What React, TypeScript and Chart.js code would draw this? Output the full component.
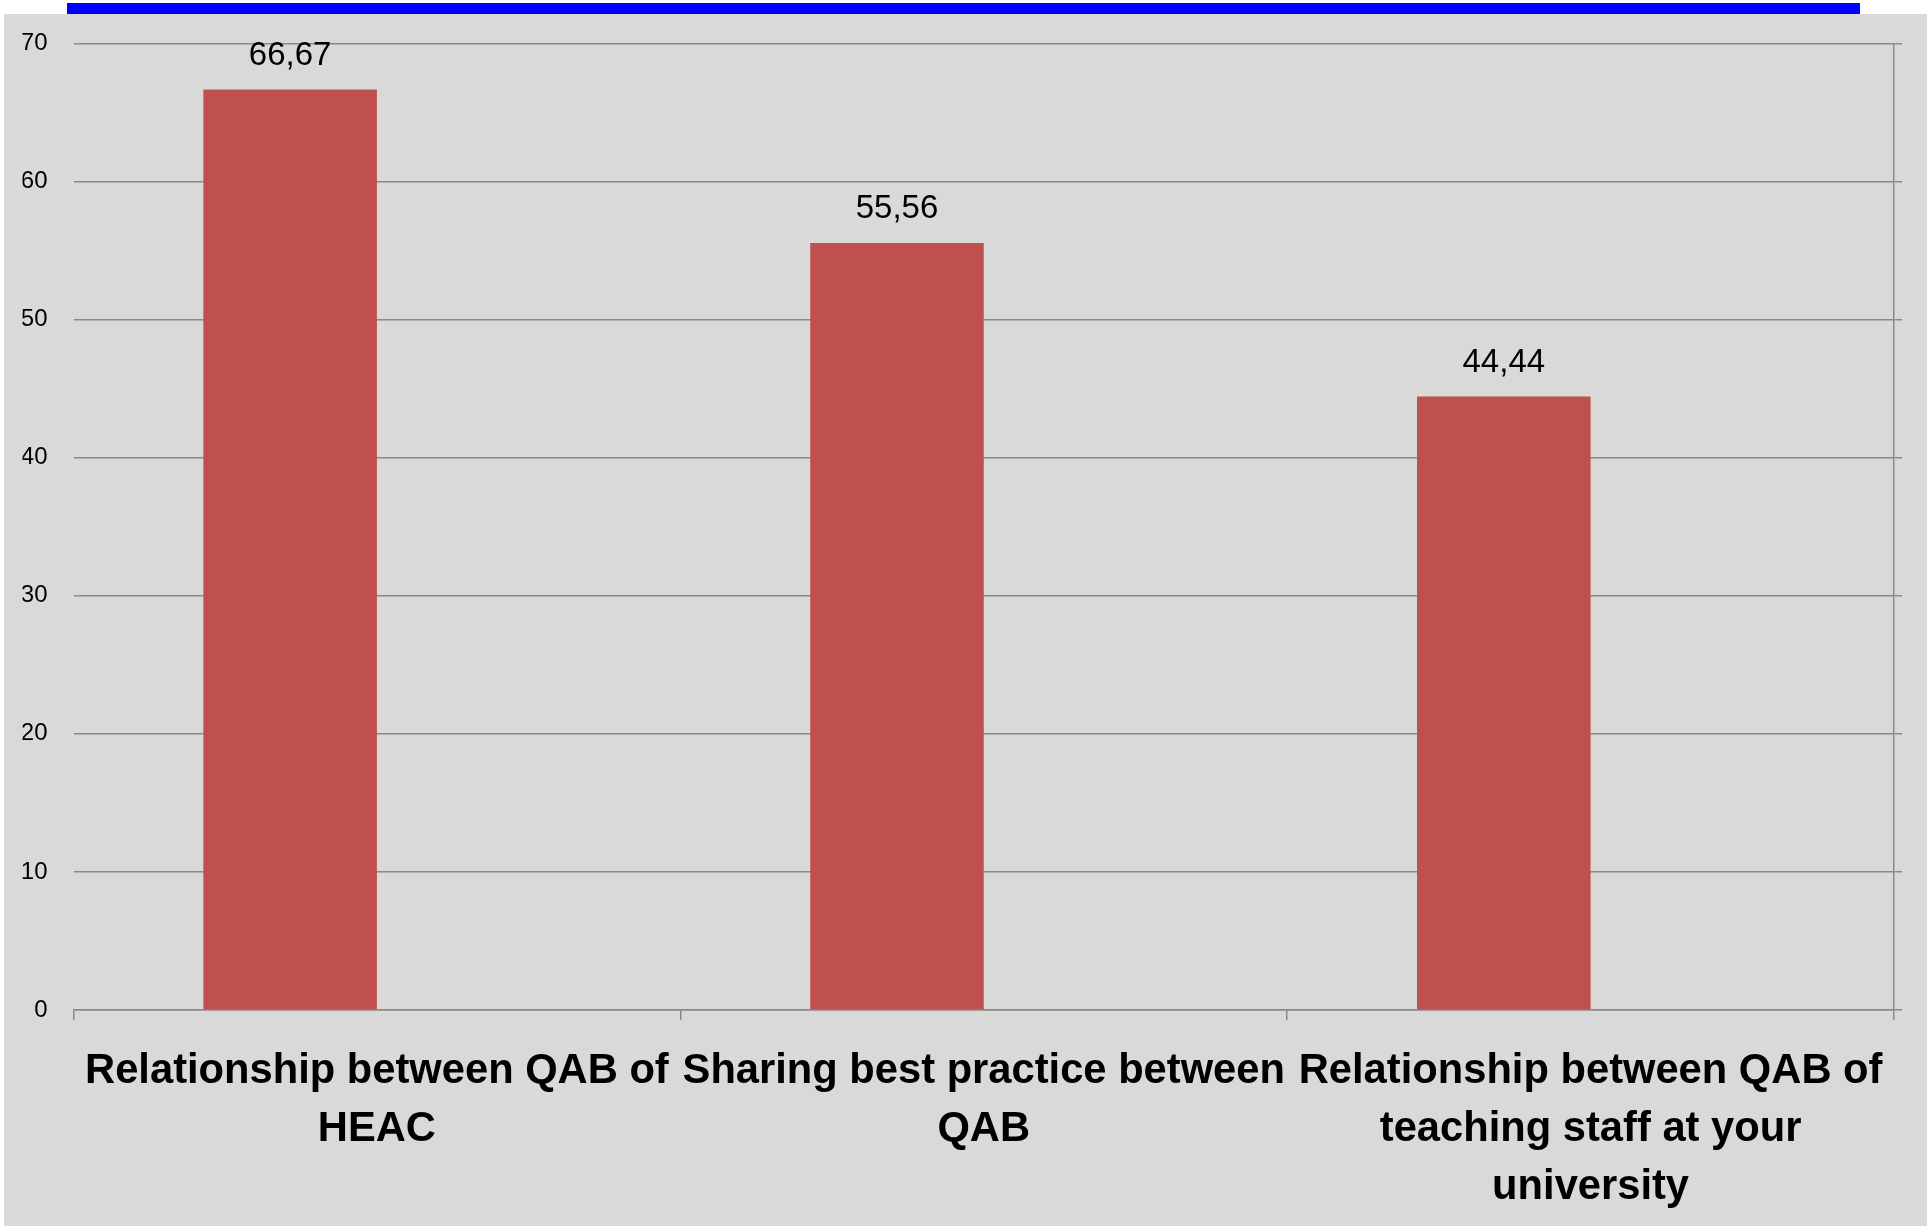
import React, { useEffect, useRef } from "react";
import { Chart, registerables } from "chart.js";

Chart.register(...registerables);

const categories: string[][] = [
  ["Relationship between QAB of", "HEAC"],
  ["Sharing best practice between", "QAB"],
  ["Relationship between QAB of", "teaching staff at your", "university"],
];
const values: number[] = [66.67, 55.56, 44.44];
// second (empty) series in the original workbook, which leaves the bars left of centre
const emptySeries: (number | null)[] = [null, null, null];
const yTicks: number[] = [0, 10, 20, 30, 40, 50, 60, 70];
const yMin = 0;
const yMax = 70;

const FONT = "'Liberation Sans', Arial, sans-serif";
const GRID = "#8a8a8a";

export default function App() {
  const ref = useRef<HTMLCanvasElement>(null);

  useEffect(() => {
    document.body.style.margin = "0";
    const canvas = ref.current!;

    const valueLabels = {
      id: "valueLabels",
      afterDatasetsDraw(chart: any) {
        const c = chart.ctx;
        const meta = chart.getDatasetMeta(0);
        c.save();
        c.font = `33px ${FONT}`;
        c.fillStyle = "#000";
        c.textAlign = "center";
        c.textBaseline = "middle";
        meta.data.forEach((bar: any, i: number) => {
          c.fillText(values[i].toFixed(2).replace(".", ","), bar.x, bar.y - 33.5);
        });
        c.restore();
      },
    };

    const chart = new Chart(canvas, {
      type: "bar",
      data: {
        labels: categories,
        datasets: [
          {
            data: values,
            backgroundColor: "#C0504D",
            borderWidth: 0,
            barPercentage: 1,
            categoryPercentage: 0.572,
          },
          {
            data: emptySeries,
            backgroundColor: "#4F81BD",
            borderWidth: 0,
            barPercentage: 1,
            categoryPercentage: 0.572,
          },
        ],
      },
      options: {
        responsive: false,
        animation: false,
        devicePixelRatio: 1,
        layout: { padding: { left: 18.5, top: 29.5, right: 25, bottom: 0 } },
        plugins: { legend: { display: false }, tooltip: { enabled: false } },
        scales: {
          x: {
            offset: true,
            grid: {
              display: true,
              offset: true,
              drawOnChartArea: false,
              drawTicks: true,
              tickLength: 10,
              color: GRID,
              lineWidth: 1.5,
            },
            border: { display: true, color: GRID, width: 1.5 },
            ticks: {
              color: "#000",
              font: { family: FONT, size: 41.7, weight: "bold", lineHeight: 1.39 },
              padding: 23,
              maxRotation: 0,
              minRotation: 0,
              autoSkip: false,
            },
            afterFit: (s: any) => {
              s.height = 216;
            },
          },
          y: {
            min: yMin,
            max: yMax,
            afterBuildTicks: (s: any) => {
              s.ticks = yTicks.map((v) => ({ value: v }));
            },
            ticks: {
              color: "#000",
              font: { family: FONT, size: 24 },
              padding: 26,
            },
            grid: { color: GRID, lineWidth: 1.5, drawTicks: false },
            border: { display: false },
            afterFit: (s: any) => {
              s.width = 51;
              s.paddingTop = 14;
              s.paddingBottom = 14;
            },
          },
          y2: {
            position: "right",
            min: yMin,
            max: yMax,
            afterBuildTicks: (s: any) => {
              s.ticks = yTicks.map((v) => ({ value: v }));
            },
            ticks: { display: false },
            grid: {
              drawOnChartArea: false,
              drawTicks: true,
              tickLength: 8,
              color: GRID,
              lineWidth: 1.5,
            },
            border: { display: true, color: GRID, width: 1.5 },
          },
        },
      } as any,
      plugins: [valueLabels],
    });

    return () => chart.destroy();
  }, []);

  return (
    <div style={{ position: "relative", width: 1927, height: 1228, background: "#fff" }}>
      <div
        style={{
          position: "absolute",
          left: 67,
          top: 3,
          width: 1793,
          height: 11,
          background: "#0000FF",
        }}
      />
      <canvas
        ref={ref}
        width={1923}
        height={1212}
        style={{
          position: "absolute",
          left: 4,
          top: 14,
          width: 1923,
          height: 1212,
          background: "#D9D9D9",
        }}
      />
    </div>
  );
}
